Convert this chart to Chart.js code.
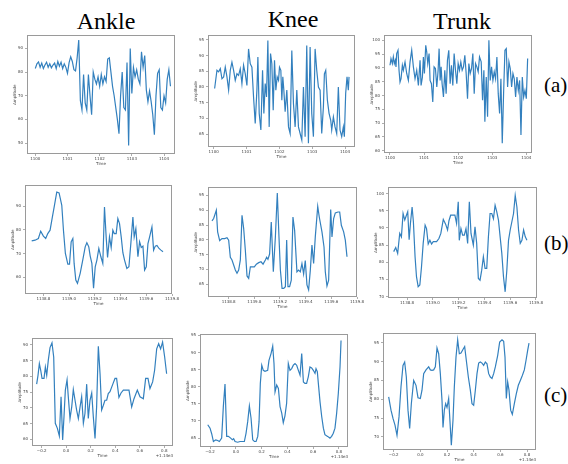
<!DOCTYPE html>
<html><head><meta charset="utf-8">
<script src="https://cdn.jsdelivr.net/npm/chart.js@4.4.0/dist/chart.umd.min.js"></script>
<style>
html,body{margin:0;padding:0;background:#fff;}
#fig{position:relative;width:568px;height:464px;overflow:hidden;background:#fff;}
#fig canvas{position:absolute;}
.col{position:absolute;font-family:'Liberation Serif','Times New Roman',serif;font-size:24px;line-height:1;color:#000;transform:translateX(-50%);white-space:nowrap;}
.row{position:absolute;font-family:'Liberation Serif','Times New Roman',serif;font-size:21px;line-height:1;color:#000;white-space:nowrap;}
</style></head><body>
<div id="fig">
<div class="col" style="left:106px;top:9px">Ankle</div>
<div class="col" style="left:293px;top:7px">Knee</div>
<div class="col" style="left:462px;top:9px">Trunk</div>
<div class="row" style="left:544px;top:75px">(a)</div>
<div class="row" style="left:544px;top:233px">(b)</div>
<div class="row" style="left:544px;top:385px">(c)</div>
</div>
<script>
// ---------- tick labels ----------
const ticksA_x = [1100, 1101, 1102, 1103, 1104];
const ticksB_x = [1138.8, 1139.0, 1139.2, 1139.4, 1139.6, 1139.8];
const ticksC_x = [-0.2, 0.0, 0.2, 0.4, 0.6, 0.8];
const ticksAnkleA_y = [50, 60, 70, 80, 90];
const ticksKneeA_y = [65, 70, 75, 80, 85, 90, 95];
const ticksTrunkA_y = [60, 65, 70, 75, 80, 85, 90, 95, 100];
const ticksAnkleB_y = [60, 70, 80, 90];
const ticksKneeB_y = [65, 70, 75, 80, 85, 90, 95];
const ticksTrunkB_y = [70, 75, 80, 85, 90, 95, 100];
const ticksAnkleC_y = [60, 65, 70, 75, 80, 85, 90];
const ticksKneeC_y = [65, 70, 75, 80, 85, 90, 95];
const ticksTrunkC_y = [70, 75, 80, 85, 90, 95];
const offsetTextC = '+1.14e3';
const xTitle = 'Time';
const yTitle = 'Amplitude';

// ---------- row (a) ----------
const ankleA_time = [
1100.00,1100.05,1100.10,1100.15,1100.20,1100.25,1100.30,1100.35,1100.40,1100.45,
1100.50,1100.55,1100.60,1100.65,1100.70,1100.75,1100.80,1100.85,1100.90,1100.95,
1101.00,1101.05,1101.10,1101.15,1101.20,1101.25,1101.30,1101.35,1101.40,1101.45,
1101.50,1101.55,1101.60,1101.65,1101.70,1101.75,1101.80,1101.85,1101.90,1101.95,
1102.00,1102.05,1102.10,1102.15,1102.20,1102.25,1102.30,1102.35,1102.40,1102.45,
1102.50,1102.55,1102.60,1102.65,1102.70,1102.75,1102.80,1102.85,1102.90,1102.95,
1103.00,1103.05,1103.10,1103.15,1103.20,1103.25,1103.30,1103.35,1103.40,1103.45,
1103.50,1103.55,1103.60,1103.65,1103.70,1103.75,1103.80,1103.85,1103.90,1103.95,
1104.00,1104.05,1104.10,1104.15,1104.20];
const ankleA_amp = [
81.5,83.5,84.3,82,83.8,81.5,83,84.2,82,83.5,
81.8,83,83.8,81.5,84.5,82.5,84.2,81.5,83.5,82,
79.5,84,86.5,84.5,81,80.5,86,93.5,68,64,
79,67,64,79,70,62,80,77,75,78,
74,79,75,78,76,85.5,86,80,74,70,
65,60,54,70,80,65,64,84,49,90,
71,82,78,81,77,75,88.6,82,87,72.5,
67.5,72,67.5,62,53.5,70,79.5,81,65,64,
70,67,77,81,74];

const kneeA_time = [
1100.030,1100.101,1100.152,1100.203,1100.253,1100.304,1100.354,1100.405,1100.456,1100.506,
1100.557,1100.608,1100.658,1100.709,1100.759,1100.810,1100.861,1100.911,1100.962,1101.013,
1101.063,1101.114,1101.165,1101.215,1101.266,1101.317,1101.347,1101.387,1101.438,1101.489,
1101.529,1101.570,1101.610,1101.651,1101.691,1101.732,1101.772,1101.813,1101.853,1101.894,
1101.934,1101.975,1102.005,1102.046,1102.076,1102.106,1102.137,1102.177,1102.228,1102.279,
1102.329,1102.380,1102.430,1102.481,1102.532,1102.582,1102.633,1102.684,1102.734,1102.785,
1102.835,1102.886,1102.937,1102.987,1103.038,1103.089,1103.139,1103.190,1103.241,1103.291,
1103.342,1103.372,1103.413,1103.463,1103.514,1103.565,1103.595,1103.646,1103.696,1103.747,
1103.797,1103.848,1103.899,1103.949,1103.980,1104.020,1104.061,1104.101,1104.122];
const kneeA_amp = [
79.5,85.3,84.8,85.8,82.6,83.2,86.3,83.2,79.0,85.3,
87.9,85.3,82.1,84.2,83.7,85.8,81.1,86.9,84.2,80.5,
92.1,87.4,86.3,76.8,68.4,79.0,89.5,71.6,66.3,85.3,
71.6,81.1,76.8,94.8,67.3,90.6,87.4,72.6,88.5,79.0,
83.2,82.1,86.3,85.3,75.8,83.2,79.0,72.1,79.0,67.3,
65.2,91.6,74.7,67.3,79.0,67.3,65.2,63.1,80.0,64.2,
93.2,62.1,92.7,71.6,64.2,92.1,85.3,80.0,79.0,65.2,
73.7,84.2,85.3,75.8,71.6,69.4,66.3,70.5,67.3,65.2,
80.0,66.3,64.2,67.3,64.2,77.9,83.2,79.0,83.2];

const trunkA_time = [
1100.000,1100.029,1100.069,1100.098,1100.127,1100.157,1100.176,1100.196,1100.235,1100.265,
1100.294,1100.324,1100.363,1100.392,1100.441,1100.490,1100.539,1100.588,1100.637,1100.686,
1100.735,1100.784,1100.833,1100.882,1100.912,1100.951,1100.980,1101.010,1101.049,1101.078,
1101.108,1101.147,1101.176,1101.216,1101.255,1101.294,1101.333,1101.373,1101.412,1101.441,
1101.471,1101.500,1101.529,1101.569,1101.608,1101.647,1101.686,1101.725,1101.765,1101.804,
1101.843,1101.882,1101.922,1101.961,1102.000,1102.039,1102.078,1102.118,1102.157,1102.196,
1102.235,1102.275,1102.314,1102.353,1102.392,1102.431,1102.471,1102.510,1102.549,1102.588,
1102.627,1102.676,1102.716,1102.755,1102.784,1102.824,1102.863,1102.902,1102.941,1102.980,
1103.020,1103.059,1103.098,1103.137,1103.176,1103.216,1103.255,1103.294,1103.333,1103.373,
1103.412,1103.451,1103.490,1103.529,1103.569,1103.608,1103.647,1103.686,1103.725,1103.765,
1103.804,1103.843,1103.882,1103.922,1103.961,1104.000,1104.039];
const trunkA_amp = [
91.0,93.4,91.6,94.0,91.6,92.8,90.4,95.2,96.4,89.2,
84.9,86.1,91.0,89.2,92.2,88.0,85.5,92.2,96.4,90.4,
86.1,89.2,83.7,92.8,83.7,86.7,94.0,88.0,98.2,95.8,
91.6,95.2,85.5,84.3,77.7,90.4,89.8,83.1,89.2,97.0,
85.5,90.4,84.3,79.5,89.2,80.7,92.8,96.4,84.3,91.0,
83.7,95.2,89.2,84.3,91.6,89.2,92.2,89.2,90.4,94.6,
88.0,78.9,91.6,88.0,89.8,95.2,80.7,91.6,90.4,88.6,
94.0,92.2,78.3,89.2,70.5,86.7,72.3,100.0,85.5,90.4,
85.5,88.6,86.1,94.0,80.7,73.5,86.1,62.7,80.7,96.4,
97.0,83.1,92.2,89.8,83.1,88.0,86.1,79.5,86.7,81.9,
85.5,65.7,86.7,79.5,81.9,78.9,93.4];

// ---------- row (b) ----------
const ankleB_time = [
1138.709,1138.735,1138.761,1138.779,1138.800,1138.818,1138.834,1138.852,1138.870,1138.886,
1138.904,1138.922,1138.943,1138.956,1138.971,1138.990,1139.003,1139.016,1139.029,1139.039,
1139.052,1139.065,1139.086,1139.106,1139.125,1139.138,1139.153,1139.164,1139.177,1139.190,
1139.203,1139.216,1139.231,1139.247,1139.262,1139.275,1139.288,1139.299,1139.314,1139.327,
1139.340,1139.351,1139.366,1139.379,1139.392,1139.405,1139.418,1139.431,1139.449,1139.465,
1139.481,1139.496,1139.506,1139.519,1139.535,1139.548,1139.561,1139.574,1139.587,1139.600,
1139.613,1139.626,1139.644,1139.657,1139.670,1139.683,1139.699,1139.714,1139.730];
const ankleB_amp = [
75.4,75.7,76.4,79.5,77.4,76.4,78.5,79.9,85.5,90.4,
96.0,95.6,90.4,79.9,70.1,65.6,65.6,75.0,76.4,65.9,
58.9,57.5,61.7,67.3,72.9,74.6,72.9,69.0,65.9,55.4,
64.5,67.3,72.2,68.7,65.9,89.7,77.1,68.4,77.1,72.6,
79.9,78.5,78.5,84.8,82.7,77.1,70.4,67.3,63.8,64.5,
75.0,85.5,77.1,80.6,68.7,75.0,72.6,73.2,63.1,64.5,
74.3,77.1,81.3,71.5,73.2,73.5,72.2,71.5,70.8];

const kneeB_time = [
1138.670,1138.683,1138.704,1138.714,1138.730,1138.748,1138.769,1138.787,1138.800,1138.813,
1138.826,1138.839,1138.852,1138.865,1138.878,1138.891,1138.904,1138.917,1138.930,1138.943,
1138.956,1138.969,1138.982,1139.000,1139.016,1139.034,1139.052,1139.068,1139.086,1139.096,
1139.106,1139.119,1139.132,1139.148,1139.164,1139.179,1139.192,1139.203,1139.216,1139.229,
1139.242,1139.252,1139.262,1139.275,1139.288,1139.301,1139.314,1139.332,1139.345,1139.358,
1139.371,1139.384,1139.397,1139.410,1139.423,1139.436,1139.449,1139.462,1139.475,1139.494,
1139.506,1139.527,1139.543,1139.553,1139.566,1139.579,1139.595,1139.605,1139.618,1139.631,
1139.652,1139.665,1139.678,1139.696,1139.709,1139.722];
const kneeB_amp = [
86.4,87.2,90.0,82.7,79.7,80.4,80.4,80.7,79.9,74.1,
73.2,71.5,69.8,68.7,69.8,73.2,88.3,83.8,76.5,67.8,
67.0,70.9,70.9,70.9,71.8,72.3,72.6,71.8,73.2,74.1,
73.4,75.2,86.0,69.2,81.0,95.8,81.0,69.8,63.6,63.6,
64.2,79.9,64.2,64.2,66.4,87.7,83.2,69.2,69.8,69.2,
72.0,68.5,73.0,64.8,63.1,69.6,78.2,72.0,81.0,91.3,
87.7,82.7,77.6,69.2,64.4,66.4,90.2,81.0,87.2,89.1,
89.4,89.4,84.9,82.7,79.9,74.3];

const trunkB_time = [
1138.696,1138.712,1138.727,1138.743,1138.756,1138.769,1138.782,1138.795,1138.805,1138.816,
1138.826,1138.839,1138.849,1138.862,1138.873,1138.886,1138.899,1138.912,1138.925,1138.940,
1138.951,1138.964,1138.977,1138.990,1139.003,1139.029,1139.047,1139.062,1139.081,1139.099,
1139.114,1139.125,1139.138,1139.158,1139.171,1139.184,1139.197,1139.205,1139.218,1139.231,
1139.244,1139.257,1139.270,1139.283,1139.296,1139.314,1139.327,1139.340,1139.353,1139.366,
1139.379,1139.392,1139.405,1139.418,1139.431,1139.444,1139.457,1139.470,1139.483,1139.496,
1139.509,1139.522,1139.535,1139.548,1139.561,1139.574,1139.587,1139.600,1139.613,1139.626,
1139.639,1139.652,1139.665,1139.678,1139.691,1139.704,1139.717,1139.730];
const trunkB_amp = [
83.1,84.3,82.6,88.4,87.4,94.2,92.3,93.7,94.7,86.6,
91.3,96.1,91.8,81.6,75.8,72.9,73.4,78.7,85.5,90.8,
89.8,85.3,86.4,85.3,86.0,86.0,86.9,88.4,92.5,91.1,
89.4,92.1,93.7,93.7,93.7,91.3,97.6,86.4,89.8,87.9,
87.9,89.8,85.5,97.6,88.4,85.0,90.3,85.5,75.3,74.8,
77.7,81.6,78.2,78.2,87.4,94.2,94.2,92.7,96.6,94.7,
92.3,87.4,82.6,75.8,71.4,77.7,86.4,89.4,91.8,94.2,
99.5,96.1,89.4,85.5,86.4,89.4,87.4,86.4];

// ---------- row (c) (time relative to offset +1.14e3) ----------
const ankleC_time = [
-0.241,-0.230,-0.219,-0.208,-0.197,-0.181,-0.170,-0.159,-0.146,-0.132,
-0.116,-0.102,-0.089,-0.072,-0.056,-0.042,-0.029,-0.018,-0.007,0.007,
0.017,0.031,0.045,0.058,0.072,0.085,0.099,0.113,0.126,0.140,
0.153,0.167,0.180,0.194,0.208,0.221,0.235,0.248,0.262,0.276,
0.289,0.303,0.316,0.330,0.343,0.357,0.384,0.398,0.411,0.430,
0.447,0.466,0.493,0.512,0.534,0.553,0.580,0.602,0.629,0.648,
0.667,0.683,0.705,0.721,0.738,0.754,0.770,0.786,0.803,0.819];
const ankleC_amp = [
77.5,80.3,84.0,81.9,79.3,79.3,82.9,80.3,85.1,89.1,
90.6,86.1,65.1,63.5,61.1,73.5,59.8,67.2,75.6,78.9,
73.5,66.6,70.3,75.8,72.4,69.3,66.6,70.3,73.5,65.1,
68.2,77.5,66.6,72.4,74.7,67.2,60.3,70.3,89.5,80.8,
69.3,70.8,72.4,72.4,74.5,75.1,77.9,79.3,79.3,73.3,
74.7,75.6,75.6,75.6,70.3,72.9,75.6,73.5,72.9,79.3,
79.3,76.1,78.2,81.9,88.7,90.3,88.7,90.8,86.1,80.8];

const kneeC_time = [
-0.218,-0.200,-0.187,-0.174,-0.156,-0.141,-0.128,-0.110,-0.097,-0.084,
-0.071,-0.058,-0.040,-0.027,-0.017,-0.006,0.014,0.033,0.051,0.066,
0.079,0.092,0.105,0.118,0.131,0.144,0.157,0.170,0.180,0.190,
0.201,0.213,0.226,0.247,0.257,0.273,0.286,0.296,0.304,0.317,
0.330,0.343,0.356,0.368,0.381,0.394,0.407,0.420,0.433,0.446,
0.459,0.472,0.485,0.498,0.511,0.524,0.536,0.549,0.562,0.575,
0.588,0.601,0.614,0.622,0.632,0.640,0.653,0.666,0.679,0.691,
0.712,0.730,0.743,0.756,0.769,0.782,0.795,0.808,0.816];
const kneeC_amp = [
68.9,67.9,66.2,64.0,64.5,64.3,64.0,65.0,74.2,80.8,
65.5,65.5,65.0,64.5,64.8,64.0,63.8,64.0,64.0,64.0,
66.4,69.8,74.4,70.8,64.5,64.0,64.0,65.5,69.8,81.0,
86.3,84.8,84.5,84.8,87.7,89.7,91.9,86.8,78.5,80.5,
79.5,74.2,72.3,69.5,71.5,75.2,86.8,84.8,85.3,86.3,
86.8,86.3,84.8,83.4,89.7,81.4,81.0,81.0,82.9,85.8,
85.5,84.8,83.9,85.3,84.4,81.0,75.6,71.3,67.9,66.0,
65.5,65.0,65.5,66.4,67.9,72.3,78.1,85.8,93.5];

const trunkC_time = [
-0.2375,-0.220,-0.205,-0.190,-0.175,-0.160,-0.145,-0.130,-0.1175,-0.105,
-0.0925,-0.080,-0.0675,-0.050,-0.0325,-0.0175,0.000,0.0125,0.025,0.0425,
0.0625,0.075,0.0875,0.100,0.1125,0.125,0.1375,0.150,0.1625,0.170,
0.180,0.190,0.200,0.2125,0.2325,0.245,0.255,0.2675,0.280,0.2925,
0.305,0.3175,0.3325,0.345,0.360,0.375,0.3875,0.400,0.4125,0.425,
0.4375,0.450,0.4625,0.475,0.4875,0.500,0.5125,0.525,0.5375,0.550,
0.5625,0.580,0.595,0.6125,0.625,0.635,0.645,0.655,0.665,0.6775,
0.690,0.705,0.720,0.735,0.750,0.765,0.780,0.7925,0.805,0.815];
const trunkC_amp = [
80.6,77.1,74.9,73.1,70.4,75.3,83.3,89.0,89.9,85.9,
77.1,72.2,78.8,85.0,83.7,80.4,80.2,82.4,86.8,87.8,
88.6,87.8,87.7,87.8,88.6,93.6,92.1,86.8,79.7,72.5,
77.1,78.8,77.8,80.2,67.8,74.4,83.3,91.2,95.8,92.1,
92.3,93.1,94.0,90.3,85.9,82.4,78.8,78.4,82.4,86.8,
89.6,89.9,89.6,89.0,89.9,89.4,86.8,85.9,85.5,86.8,
88.6,91.6,95.2,95.8,95.4,91.2,80.2,84.6,82.4,77.1,
76.0,78.8,81.5,83.7,85.0,86.3,87.8,90.3,93.0,94.9];

// ---------- layout of the nine panels (plot-area boxes in page pixels) ----------
const fmtInt = v => String(Math.round(v));
const fmtOne = v => v.toFixed(1).replace('-', '\u2212');
const panels = [
  {box:[27,35,175,154],  x:ankleA_time, y:ankleA_amp, xr:[1099.742,1104.341], yr:[45.4,95.5],  xt:ticksA_x, yt:ticksAnkleA_y, fx:fmtInt},
  {box:[208,35,355,147], x:kneeA_time,  y:kneeA_amp,  xr:[1099.828,1104.304], yr:[60.9,96.4],  xt:ticksA_x, yt:ticksKneeA_y,  fx:fmtInt},
  {box:[384,35,532,153], x:trunkA_time, y:trunkA_amp, xr:[1099.824,1104.167], yr:[59.2,101.8], xt:ticksA_x, yt:ticksTrunkA_y, fx:fmtInt},
  {box:[25,185,172,294], x:ankleB_time, y:ankleB_amp, xr:[1138.657,1139.8],   yr:[53.0,98.8],  xt:ticksB_x, yt:ticksAnkleB_y, fx:fmtOne},
  {box:[208,187,357,297],x:kneeB_time,  y:kneeB_amp,  xr:[1138.639,1139.8],   yr:[60.7,97.7],  xt:ticksB_x, yt:ticksKneeB_y,  fx:fmtOne},
  {box:[388,187,537,298],x:trunkB_time, y:trunkB_amp, xr:[1138.652,1139.808], yr:[69.6,101.8], xt:ticksB_x, yt:ticksTrunkB_y, fx:fmtOne},
  {box:[32,338,173,446], x:ankleC_time, y:ankleC_amp, xr:[-0.279,0.871],      yr:[57.9,92.0],  xt:ticksC_x, yt:ticksAnkleC_y, fx:fmtOne, off:offsetTextC},
  {box:[200,334,348,447],x:kneeC_time,  y:kneeC_amp,  xr:[-0.278,0.870],      yr:[62.4,95.3],  xt:ticksC_x, yt:ticksKneeC_y,  fx:fmtOne, off:offsetTextC},
  {box:[383,333,536,450],x:trunkC_time, y:trunkC_amp, xr:[-0.280,0.8675],     yr:[66.5,97.5],  xt:ticksC_x, yt:ticksTrunkC_y, fx:fmtOne, off:offsetTextC}
];

const FONT = 'DejaVu Sans';
const TXT = '#444';
const YW = 14, XH = 12, PL = 1, PT = 4, PR = 12, PB = 1;
const fig = document.getElementById('fig');

function drawPanel(p) {
  const [l, t, r, b] = p.box;
  const w = (r - l) + PL + YW + PR;
  const h = (b - t) + PT + XH + PB;
  const cv = document.createElement('canvas');
  cv.width = w; cv.height = h;
  cv.style.width = w + 'px'; cv.style.height = h + 'px';
  cv.style.left = (l - PL - YW) + 'px';
  cv.style.top = (t - PT) + 'px';
  fig.appendChild(cv);

  const framePlugin = {
    id: 'frame',
    afterDraw(chart) {
      const a = chart.chartArea, ctx = chart.ctx;
      ctx.save();
      ctx.strokeStyle = '#9a9a9a';
      ctx.lineWidth = 1;
      ctx.strokeRect(Math.round(a.left) + 0.5, Math.round(a.top) + 0.5,
                     Math.round(a.right - a.left) - 1, Math.round(a.bottom - a.top) - 1);
      if (p.off) {
        ctx.fillStyle = TXT;
        ctx.font = '4px "' + FONT + '"';
        ctx.textAlign = 'right';
        ctx.textBaseline = 'middle';
        ctx.fillText(p.off, a.right, a.bottom + XH - 2.4);
      }
      ctx.restore();
    }
  };

  const tickGrid = {display: true, drawOnChartArea: false, drawTicks: true, tickLength: 2, color: '#777', lineWidth: 0.6};

  new Chart(cv, {
    type: 'line',
    data: {datasets: [{
      data: p.x.map((xv, i) => ({x: xv, y: p.y[i]})),
      borderColor: '#3380be', borderWidth: 1.2, pointRadius: 0, fill: false, tension: 0
    }]},
    options: {
      responsive: false, animation: false, devicePixelRatio: 1,
      layout: {padding: {left: PL, top: PT, right: PR, bottom: PB}},
      plugins: {legend: {display: false}, tooltip: {enabled: false}},
      scales: {
        x: {
          type: 'linear', min: p.xr[0], max: p.xr[1],
          afterBuildTicks: s => { s.ticks = p.xt.map(v => ({value: v})); },
          afterFit: s => { s.height = XH; },
          grid: tickGrid, border: {display: false},
          ticks: {autoSkip: false, maxRotation: 0, padding: 0.5, color: TXT, font: {size: 4, family: FONT}, callback: v => p.fx(v)},
          title: {display: true, text: xTitle, color: TXT, font: {size: 4, family: FONT}, padding: 0}
        },
        y: {
          type: 'linear', min: p.yr[0], max: p.yr[1],
          afterBuildTicks: s => { s.ticks = p.yt.map(v => ({value: v})); },
          afterFit: s => { s.width = YW; },
          grid: tickGrid, border: {display: false},
          ticks: {autoSkip: false, padding: 2, color: TXT, font: {size: 4, family: FONT}, callback: v => fmtInt(v)},
          title: {display: true, text: yTitle, color: TXT, font: {size: 4, family: FONT}, padding: 0}
        }
      }
    },
    plugins: [framePlugin]
  });
}

panels.forEach(drawPanel);
</script>
</body></html>
